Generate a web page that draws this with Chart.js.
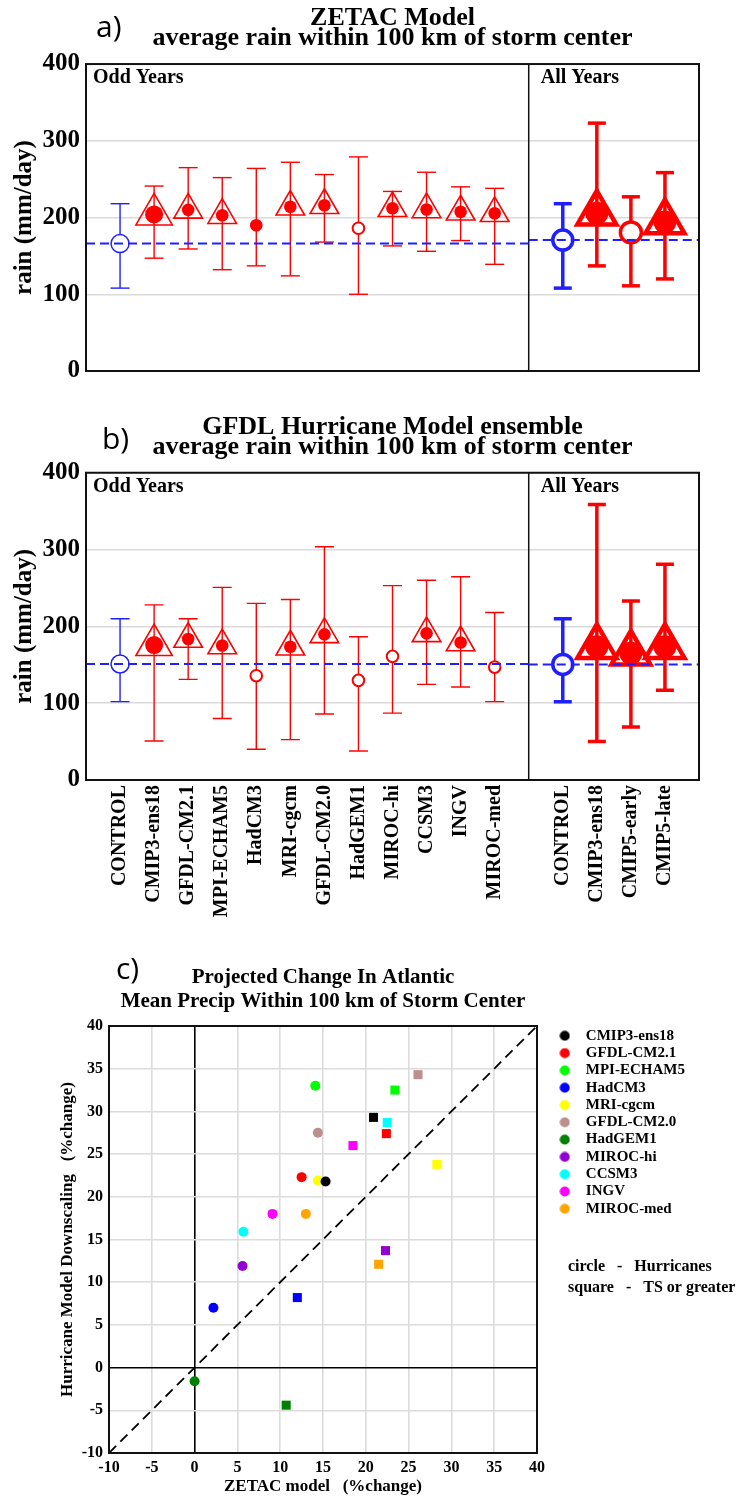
<!DOCTYPE html>
<html>
<head>
<meta charset="utf-8">
<script src="https://cdn.jsdelivr.net/npm/chart.js@4.4.1/dist/chart.umd.min.js"></script>
<style>
body { margin: 0; background: #fff; }
#page { position: relative; width: 738px; height: 1497px; overflow: hidden; background: #fff; }
canvas { position: absolute; left: 0; }
.crop { position: absolute; left: 0; top: 0; width: 738px; height: 377px; overflow: hidden; }
.tag { position: absolute; font-family: 'Open Sans', sans-serif; font-size: 30px; line-height: 30px; color: #000; }
</style>
</head>
<body>
<div id="page">
  <div class="crop"><canvas id="chartA" width="738" height="400" style="top:0;width:738px;height:400px"></canvas></div>
  <canvas id="chartB" width="738" height="540" style="top:400px;width:738px;height:540px"></canvas>
  <canvas id="chartC" width="738" height="547" style="top:950px;width:738px;height:547px"></canvas>
  <div class="tag" style="left:96px;top:11px">a)</div>
  <div class="tag" style="left:102px;top:423px">b)</div>
  <div class="tag" style="left:116px;top:953px">c)</div>
</div>
<script>
// categories
const oddNames = ['CONTROL', 'CMIP3-ens18', 'GFDL-CM2.1', 'MPI-ECHAM5', 'HadCM3', 'MRI-cgcm',
  'GFDL-CM2.0', 'HadGEM1', 'MIROC-hi', 'CCSM3', 'INGV', 'MIROC-med'];
const allNames = ['CONTROL', 'CMIP3-ens18', 'CMIP5-early', 'CMIP5-late'];

// a) ZETAC, odd years (mm/day)
const zetacOddMean = [166, 204, 210, 203, 190, 214, 216, 186, 212, 210.5, 207.5, 205.5];
const zetacOddHigh = [218, 241, 265, 252, 264, 272, 256, 279, 234, 259, 240, 238];
const zetacOddLow  = [108, 147, 159, 132, 137, 124, 168, 100, 163, 156, 170, 139];
const zetacOddTri  = [0, 1, 1, 1, 0, 1, 1, 0, 1, 1, 1, 1];
const zetacOddFill = [0, 1, 1, 1, 1, 1, 1, 0, 1, 1, 1, 1];
// a) ZETAC, all years
const zetacAllMean = [170.6, 205.5, 180.6, 194];
const zetacAllHigh = [218, 323, 227, 258.5];
const zetacAllLow  = [108, 137, 111, 120];
const zetacAllTri  = [0, 1, 0, 1];
const zetacAllFill = [0, 1, 0, 1];

// b) GFDL hurricane model, odd years
const gfdlOddMean = [151, 175.7, 183.5, 175, 135.8, 173.5, 189.6, 129.7, 161, 190.9, 179, 147];
const gfdlOddHigh = [210, 228, 210, 250.7, 230, 235, 303.7, 186.5, 253, 260, 264.6, 218];
const gfdlOddLow  = [102, 50.8, 131, 80, 40, 52.5, 86, 37.7, 87, 124.5, 121, 102];
const gfdlOddTri  = [0, 1, 1, 1, 0, 1, 1, 0, 0, 1, 1, 0];
const gfdlOddFill = [0, 1, 1, 1, 0, 1, 1, 0, 0, 1, 1, 0];
// b) GFDL hurricane model, all years
const gfdlAllMean = [150.5, 173.5, 165, 173.5];
const gfdlAllHigh = [210, 358.7, 233, 281];
const gfdlAllLow  = [102, 50, 69, 116.7];
const gfdlAllTri  = [0, 1, 1, 1];
const gfdlAllFill = [0, 1, 1, 1];

// c) projected change (%)
const cModels = ['CMIP3-ens18', 'GFDL-CM2.1', 'MPI-ECHAM5', 'HadCM3', 'MRI-cgcm', 'GFDL-CM2.0',
  'HadGEM1', 'MIROC-hi', 'CCSM3', 'INGV', 'MIROC-med'];
const cColors = ['#000000', '#ff0000', '#00ff00', '#0000ff', '#ffff00', '#bc8f8f',
  '#008000', '#9400d3', '#00ffff', '#ff00ff', '#ffa500'];
const zetacHur = [15.3, 12.5, 14.1, 2.2, 14.4, 14.4, 0.0, 5.6, 5.7, 9.1, 13.0];
const gfdlHur  = [21.8, 22.3, 33.0, 7.0, 21.9, 27.5, -1.6, 11.9, 15.9, 18.0, 18.0];
const zetacTS  = [20.9, 22.4, 23.4, 12.0, 28.3, 26.1, 10.7, 22.3, 22.5, 18.5, 21.5];
const gfdlTS   = [29.3, 27.4, 32.5, 8.2, 23.8, 34.3, -4.4, 13.7, 28.7, 26.0, 12.1];

const X_MIN = -1, X_SPLIT = 12, X_MAX = 17;
const oddX = oddNames.map((n, i) => i);
const allX = allNames.map((n, j) => X_SPLIT + 1 + j);

const RED = '#ff0000';
const BLUE = '#1f1fff';
const SERIF = "'Liberation Serif', 'Times New Roman', serif";

Chart.defaults.font.family = SERIF;
Chart.defaults.font.weight = 'bold';
Chart.defaults.color = '#000';

function xLabel(v) {
  const i = oddX.indexOf(v);
  if (i >= 0) return oddNames[i];
  const j = allX.indexOf(v);
  return j >= 0 ? allNames[j] : '';
}

const framePlugin = {
  id: 'frame',
  afterDatasetsDraw(chart) {
    const {ctx, chartArea: a} = chart;
    ctx.save();
    ctx.strokeStyle = '#111';
    ctx.lineWidth = 2;
    ctx.strokeRect(a.left, a.top, a.right - a.left, a.bottom - a.top);
    ctx.restore();
  }
};

const sectionPlugin = {
  id: 'sections',
  afterDraw(chart) {
    const {ctx, chartArea: a} = chart;
    ctx.save();
    ctx.font = 'bold 20px ' + SERIF;
    ctx.fillStyle = '#000';
    ctx.textBaseline = 'alphabetic';
    ctx.fillText('Odd Years', a.left + 7, a.top + 19);
    ctx.fillText('All Years', chart.scales.x.getPixelForValue(X_SPLIT) + 12, a.top + 19);
    ctx.restore();
  }
};

function groupSets(xs, names, mean, low, high, tri, fill, thick) {
  const bw = thick ? 3.5 : 1.4;
  const cap = thick ? 9 : 9.5;
  const isCtrl = i => names[i] === 'CONTROL';
  const isEns = i => names[i] === 'CMIP3-ens18';
  const bars = sel => {
    const d = [];
    xs.forEach((x, i) => { if (sel(i)) d.push({x, y: low[i]}, {x, y: high[i]}, {x, y: null}); });
    return d;
  };
  const pts = xs.map((x, i) => ({x, y: mean[i]}));
  return [
    { type: 'line', data: bars(isCtrl), borderColor: BLUE, borderWidth: bw, pointStyle: 'line',
      pointRadius: cap, pointBorderColor: BLUE, pointBorderWidth: bw, spanGaps: false, order: 8 },
    { type: 'line', data: bars(i => !isCtrl(i)), borderColor: RED, borderWidth: bw, pointStyle: 'line',
      pointRadius: cap, pointBorderColor: RED, pointBorderWidth: bw, spanGaps: false, order: 8 },
    { type: 'scatter', data: pts, order: 6, pointStyle: 'triangle',
      pointRadius: c => tri[c.dataIndex] ? (thick ? 22.5 : (isEns(c.dataIndex) ? 21 : 16.5)) : 0,
      pointBackgroundColor: 'rgba(0,0,0,0)', pointBorderColor: RED, pointBorderWidth: thick ? 4.5 : 1.6 },
    { type: 'scatter', data: pts, order: 4, pointStyle: 'circle',
      pointRadius: c => {
        const i = c.dataIndex;
        if (fill[i]) return thick ? 11.5 : (isEns(i) ? 9 : 6.3);
        if (isCtrl(i)) return thick ? 10 : 9;
        return thick ? 10.5 : 5.8;
      },
      pointBackgroundColor: c => fill[c.dataIndex] ? RED : '#fff',
      pointBorderColor: c => isCtrl(c.dataIndex) ? BLUE : RED,
      pointBorderWidth: c => fill[c.dataIndex] ? 0 : (thick ? 3.5 : (isCtrl(c.dataIndex) ? 1.5 : 2)) }
  ];
}

function panel(id, title, titlePad, odd, all, showNames, bottomH) {
  const datasets = [
    { type: 'line', data: [{x: X_SPLIT, y: 0}, {x: X_SPLIT, y: 400}], borderColor: '#111',
      borderWidth: 1.5, pointRadius: 0, order: 9 },
    ...groupSets(oddX, oddNames, ...odd, false),
    ...groupSets(allX, allNames, ...all, true),
    { type: 'line', data: [{x: X_MIN, y: odd[0][0]}, {x: X_SPLIT, y: odd[0][0]}], borderColor: BLUE,
      borderWidth: 2, borderDash: [9, 5], pointRadius: 0, order: 1 },
    { type: 'line', data: [{x: X_SPLIT, y: all[0][0]}, {x: X_MAX, y: all[0][0]}], borderColor: BLUE,
      borderWidth: 2, borderDash: [9, 5], pointRadius: 0, order: 1 }
  ];
  return new Chart(document.getElementById(id), {
    data: { datasets },
    options: {
      responsive: false, animation: false, devicePixelRatio: 1, events: [],
      layout: { padding: { left: 0, right: 39, top: 0, bottom: 0 } },
      plugins: {
        legend: { display: false },
        tooltip: { enabled: false },
        title: { display: true, text: title, fullSize: false, color: '#000',
          font: { size: 26, weight: 'bold', lineHeight: 0.77 }, padding: titlePad }
      },
      scales: {
        x: { type: 'linear', min: X_MIN, max: X_MAX,
          grid: { display: false, drawTicks: false }, border: { display: false },
          afterBuildTicks: s => { s.ticks = [...oddX, ...allX].map(v => ({value: v})); },
          ticks: { display: showNames, autoSkip: false, minRotation: 90, maxRotation: 90, padding: 5,
            font: { size: 20 }, callback: v => xLabel(v) },
          afterFit: s => { s.height = bottomH; } },
        y: { type: 'linear', min: 0, max: 400,
          ticks: { stepSize: 100, font: { size: 25 }, padding: 6 },
          grid: { color: '#dadada', lineWidth: 1.5, drawTicks: false }, border: { display: false },
          title: { display: true, text: 'rain (mm/day)', font: { size: 25 }, padding: { top: 10, bottom: 0 } },
          afterFit: s => { s.width = 86; } }
      }
    },
    plugins: [framePlugin, sectionPlugin]
  });
}

panel('chartA', ['ZETAC Model', 'average rain within 100 km of storm center'], { top: 8, bottom: 16 },
  [zetacOddMean, zetacOddLow, zetacOddHigh, zetacOddTri, zetacOddFill],
  [zetacAllMean, zetacAllLow, zetacAllHigh, zetacAllTri, zetacAllFill], false, 29);

panel('chartB', ['GFDL Hurricane Model ensemble', 'average rain within 100 km of storm center'], { top: 17, bottom: 15.7 },
  [gfdlOddMean, gfdlOddLow, gfdlOddHigh, gfdlOddTri, gfdlOddFill],
  [gfdlAllMean, gfdlAllLow, gfdlAllHigh, gfdlAllTri, gfdlAllFill], true, 160);

// panel c
const dots = cColors.map(col => {
  const cv = document.createElement('canvas');
  cv.width = 11; cv.height = 11;
  const g = cv.getContext('2d');
  g.fillStyle = col;
  g.beginPath(); g.arc(5.5, 5.5, 5, 0, Math.PI * 2); g.fill();
  return cv;
});

// legend width so the plot area ends at x=537
const LEG_FONT = 15, LEG_PAD = 2.3, LEG_BOX = 27;
const mctx = document.createElement('canvas').getContext('2d');
mctx.font = 'bold ' + LEG_FONT + 'px ' + SERIF;
const legendW = LEG_PAD + LEG_BOX + LEG_FONT / 2 + Math.max(...cModels.map(m => mctx.measureText(m).width)) + 10;
const rightPad = Math.max(0, 738 - 537 - legendW);

const legendShift = {
  id: 'legendShift',
  afterLayout(chart) { chart.legend.left += 12; chart.legend.right += 12; }
};

const notesPlugin = {
  id: 'notes',
  afterDraw(chart) {
    const {ctx} = chart;
    const x = chart.legend.left + 19;
    const top = chart.chartArea.top;
    ctx.save();
    ctx.font = 'bold 16px ' + SERIF;
    ctx.fillStyle = '#000';
    ctx.textBaseline = 'middle';
    ctx.fillText('circle   -   Hurricanes', x, top + 241);
    ctx.fillText('square   -   TS or greater', x, top + 262);
    ctx.restore();
  }
};

const gridColor = c => c.tick && c.tick.value === 0 ? '#000' : '#dcdcdc';

new Chart(document.getElementById('chartC'), {
  data: {
    datasets: [
      { type: 'line', label: '1:1', data: [{x: -10, y: -10}, {x: 40, y: 40}], borderColor: '#000',
        borderWidth: 1.8, borderDash: [10, 6], pointRadius: 0, order: 20 },
      ...cModels.map((m, i) => ({
        type: 'scatter', label: m,
        data: [{x: zetacHur[i], y: gfdlHur[i]}, {x: zetacTS[i], y: gfdlTS[i]}],
        pointStyle: ['circle', 'rect'], pointRadius: [5, 6.4],
        backgroundColor: cColors[i], borderWidth: 0, order: 10
      }))
    ]
  },
  options: {
    responsive: false, animation: false, devicePixelRatio: 1, events: [],
    layout: { padding: { left: 0, right: rightPad, top: 0, bottom: 0 } },
    plugins: {
      tooltip: { enabled: false },
      title: { display: true, text: ['Projected Change In Atlantic', 'Mean Precip Within 100 km of Storm Center'],
        fullSize: false, color: '#000', font: { size: 21, weight: 'bold', lineHeight: 24 / 21 },
        padding: { top: 16, bottom: 12 } },
      legend: {
        position: 'right', align: 'start', fullSize: false,
        labels: {
          usePointStyle: true, pointStyleWidth: LEG_BOX, boxHeight: 10, padding: LEG_PAD,
          font: { size: LEG_FONT },
          generateLabels: () => cModels.map((m, i) => ({
            text: m, pointStyle: dots[i], fillStyle: cColors[i], strokeStyle: cColors[i],
            lineWidth: 0, fontColor: '#000', hidden: false, datasetIndex: i + 1
          }))
        }
      }
    },
    scales: {
      x: { type: 'linear', min: -10, max: 40,
        ticks: { stepSize: 5, font: { size: 16 }, padding: 5 },
        grid: { color: gridColor, lineWidth: 1.6, drawTicks: false }, border: { display: false },
        title: { display: true, text: 'ZETAC model   (%change)', font: { size: 17 }, padding: { top: 0, bottom: 0 } },
        afterFit: s => { s.height = 44; } },
      y: { type: 'linear', min: -10, max: 40,
        ticks: { stepSize: 5, font: { size: 16 }, padding: 6 },
        grid: { color: gridColor, lineWidth: 1.6, drawTicks: false }, border: { display: false },
        title: { display: true, text: 'Hurricane Model Downscaling   (%change)', font: { size: 17 },
          padding: { top: 57, bottom: 0 } },
        afterFit: s => { s.width = 109; } }
    }
  },
  plugins: [framePlugin, legendShift, notesPlugin]
});
</script>
</body>
</html>
